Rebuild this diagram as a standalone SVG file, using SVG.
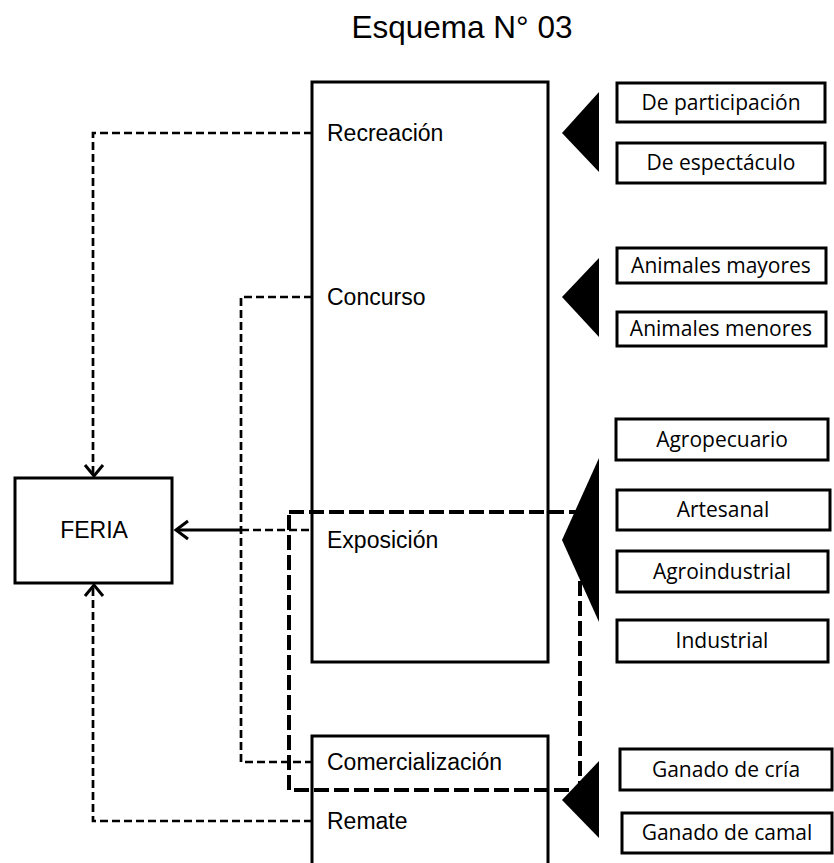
<svg xmlns="http://www.w3.org/2000/svg" width="834" height="863" viewBox="0 0 834 863">
<style>
.box{fill:#fff;stroke:#000;stroke-width:3}
.lbl{font-family:"Liberation Sans",Arial,sans-serif;font-size:23px;fill:#000}
.sub{font-family:"Open Sans","Noto Sans",sans-serif;font-size:21px;fill:#000;text-anchor:middle}
.dash{fill:none;stroke:#000;stroke-width:2.7;stroke-dasharray:8,4}
.thick{fill:none;stroke:#000;stroke-width:4;stroke-dasharray:15,5}
.arr{fill:none;stroke:#000;stroke-width:3}
.tri{fill:#000}
</style>
<text x="462" y="38" font-family="Liberation Sans,Arial,sans-serif" font-size="31.5" text-anchor="middle">Esquema N° 03</text>

<g id="main">
<rect class="box" x="312" y="82" width="236" height="580"/>
<text class="lbl" x="327" y="141">Recreación</text>
<text class="lbl" x="327" y="305">Concurso</text>
<text class="lbl" x="327" y="548">Exposición</text>
</g>
<g id="venta">
<path class="box" d="M312,880 V736 H548 V880"/>
<text class="lbl" x="327" y="770">Comercialización</text>
<text class="lbl" x="327" y="829">Remate</text>
</g>
<g id="feria">
<rect class="box" x="15" y="478" width="157" height="105" stroke-width="3.5"/>
<text class="lbl" x="94" y="538" text-anchor="middle">FERIA</text>
</g>

<g id="connectors">
<path class="dash" d="M312,133 H93 V474"/>
<path class="arr" d="M85,465 L94,476 L103,465"/>
<path class="dash" d="M312,821 H93 V586"/>
<path class="arr" d="M85,596 L94,585 L103,596"/>
<path class="dash" d="M312,297 H241 V762 H312"/>
<path class="dash" d="M241,530 H312"/>
<path d="M176,530 H241" stroke="#000" stroke-width="3"/>
<path class="arr" d="M188,521 L176,530 L188,539"/>
<rect class="thick" x="289" y="512" width="291" height="278"/>
</g>

<g id="recreacion-tipos">
<polygon class="tri" points="599,92 599,172 562,133"/>
<rect class="box" x="617" y="83" width="208" height="39"/>
<text class="sub" x="721" y="110">De participación</text>
<rect class="box" x="617" y="143" width="208" height="40"/>
<text class="sub" x="721" y="170">De espectáculo</text>
</g>
<g id="concurso-tipos">
<polygon class="tri" points="599,258 599,337 562,297"/>
<rect class="box" x="617" y="248" width="209" height="35"/>
<text class="sub" x="721" y="273">Animales mayores</text>
<rect class="box" x="617" y="312" width="209" height="34"/>
<text class="sub" x="721" y="336">Animales menores</text>
</g>
<g id="exposicion-tipos">
<polygon class="tri" points="599,458 599,622 562,540"/>
<rect class="box" x="616" y="419" width="212" height="41"/>
<text class="sub" x="722" y="447">Agropecuario</text>
<rect class="box" x="617" y="490" width="213" height="40"/>
<text class="sub" x="723" y="517">Artesanal</text>
<rect class="box" x="617" y="551" width="211" height="41"/>
<text class="sub" x="722" y="579">Agroindustrial</text>
<rect class="box" x="617" y="620" width="211" height="42"/>
<text class="sub" x="722" y="648">Industrial</text>
</g>
<g id="remate-tipos">
<polygon class="tri" points="599,761 599,838 562,800"/>
<rect class="box" x="620" y="749" width="212" height="41"/>
<text class="sub" x="726" y="777">Ganado de cría</text>
<rect class="box" x="622" y="813" width="210" height="40"/>
<text class="sub" x="727" y="840">Ganado de camal</text>
</g>
</svg>
